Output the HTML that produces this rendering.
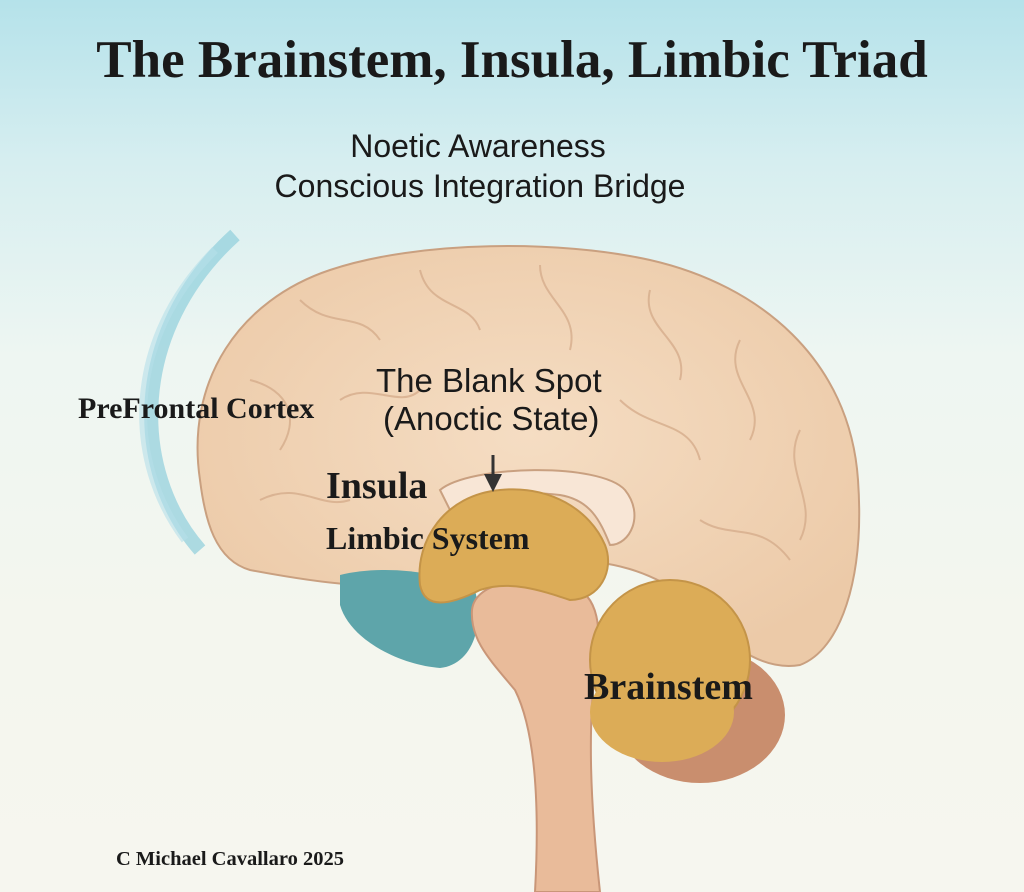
<!DOCTYPE html>
<html><head><meta charset="utf-8"><style>
html,body{margin:0;padding:0}
body{width:1024px;height:892px;overflow:hidden;background:linear-gradient(180deg,#b5e2ea 0%,#d6eef0 18%,#eef6f2 40%,#f4f6ee 70%,#f6f6ef 100%);font-family:"Liberation Sans",sans-serif;position:relative}
.t{position:absolute;white-space:nowrap;color:#1a1a1a}
</style></head><body>
<svg width="1024" height="892" style="position:absolute;left:0;top:0">
<defs>
<radialGradient id="cer" cx="50%" cy="45%" r="60%"><stop offset="0" stop-color="#f5ddc3"/><stop offset="1" stop-color="#eccaa8"/></radialGradient>
</defs>
<path d="M200,550 C130,470 130,330 235,235" fill="none" stroke="#8fcfdc" stroke-width="14" opacity="0.7"/>
<path d="M185,540 C125,460 125,340 215,250" fill="none" stroke="#b6e0ea" stroke-width="8" opacity="0.6"/>
<ellipse cx="700" cy="715" rx="85" ry="68" fill="#c98e6e"/>
<path d="M200,480 C185,380 240,300 330,270 C420,240 560,240 650,260 C760,285 850,360 858,480 C865,580 840,650 800,665 C760,672 720,640 690,600 C650,570 610,560 560,560 C500,562 450,570 420,580 C380,590 330,585 250,570 C215,560 205,520 200,480 Z" fill="url(#cer)" stroke="#c9a080" stroke-width="2"/>
<g fill="none" stroke="#d6ad8c" stroke-width="2" opacity="0.8">
<path d="M300,300 C330,330 360,310 380,340"/><path d="M420,270 C430,310 470,300 480,330"/><path d="M540,265 C540,300 580,310 570,350"/>
<path d="M650,290 C640,330 690,340 680,380"/><path d="M740,340 C720,380 770,400 750,440"/><path d="M800,430 C780,470 820,500 800,540"/>
<path d="M250,380 C290,390 300,420 280,450"/><path d="M340,400 C370,380 400,410 420,390"/><path d="M620,400 C650,430 690,420 700,460"/>
<path d="M700,520 C730,540 760,520 790,560"/><path d="M260,500 C300,480 320,510 350,500"/>
</g>
<path d="M440,490 C470,465 600,462 625,490 C645,515 630,545 610,545 C600,520 590,500 560,495 C520,490 480,495 450,510 Z" fill="#f8e6d6" stroke="#c9a080" stroke-width="2"/>
<path d="M340,575 C380,565 440,570 475,590 C485,630 470,665 440,668 C400,665 350,640 340,605 Z" fill="#5ea5aa"/>
<path d="M472,610 C475,580 530,575 570,585 C600,595 602,630 595,670 C588,730 590,800 600,892 L535,892 C540,800 535,730 515,690 C490,660 470,640 472,610 Z" fill="#e9bb9a" stroke="#c99678" stroke-width="2"/>
<path d="M420,585 C415,540 445,495 500,490 C550,485 590,510 605,545 C615,570 600,600 570,600 C540,590 510,580 480,590 C450,605 425,610 420,585 Z" fill="#dcac57" stroke="#c49448" stroke-width="2"/>
<ellipse cx="670" cy="660" rx="80" ry="80" fill="#dcac57" stroke="#c49448" stroke-width="2"/>
<ellipse cx="662" cy="712" rx="72" ry="50" fill="#dcac57"/>
<line x1="493" y1="455" x2="493" y2="478" stroke="#333" stroke-width="3"/>
<polygon points="484,474 502,474 493,492" fill="#333"/>
</svg>
<div class="t" style="left:0;width:1024px;text-align:center;top:30px;font:bold 53px 'Liberation Serif',serif">The Brainstem, Insula, Limbic Triad</div>
<div class="t" style="left:0;width:956px;text-align:center;top:128px;font-size:32px">Noetic Awareness</div>
<div class="t" style="left:0;width:960px;text-align:center;top:168px;font-size:32px">Conscious Integration Bridge</div>
<div class="t" style="left:376px;top:362px;font-size:33px">The Blank Spot</div>
<div class="t" style="left:383px;top:400px;font-size:33px">(Anoctic State)</div>
<div class="t" style="left:78px;top:392px;font:bold 30px 'Liberation Serif',serif">PreFrontal Cortex</div>
<div class="t" style="left:326px;top:464px;font:bold 38px 'Liberation Serif',serif">Insula</div>
<div class="t" style="left:326px;top:520px;font:bold 32px 'Liberation Serif',serif">Limbic System</div>
<div class="t" style="left:584px;top:665px;font:bold 38px 'Liberation Serif',serif">Brainstem</div>
<div class="t" style="left:116px;top:848px;font:bold 20.5px 'Liberation Serif',serif">C Michael Cavallaro 2025</div>
</body></html>
